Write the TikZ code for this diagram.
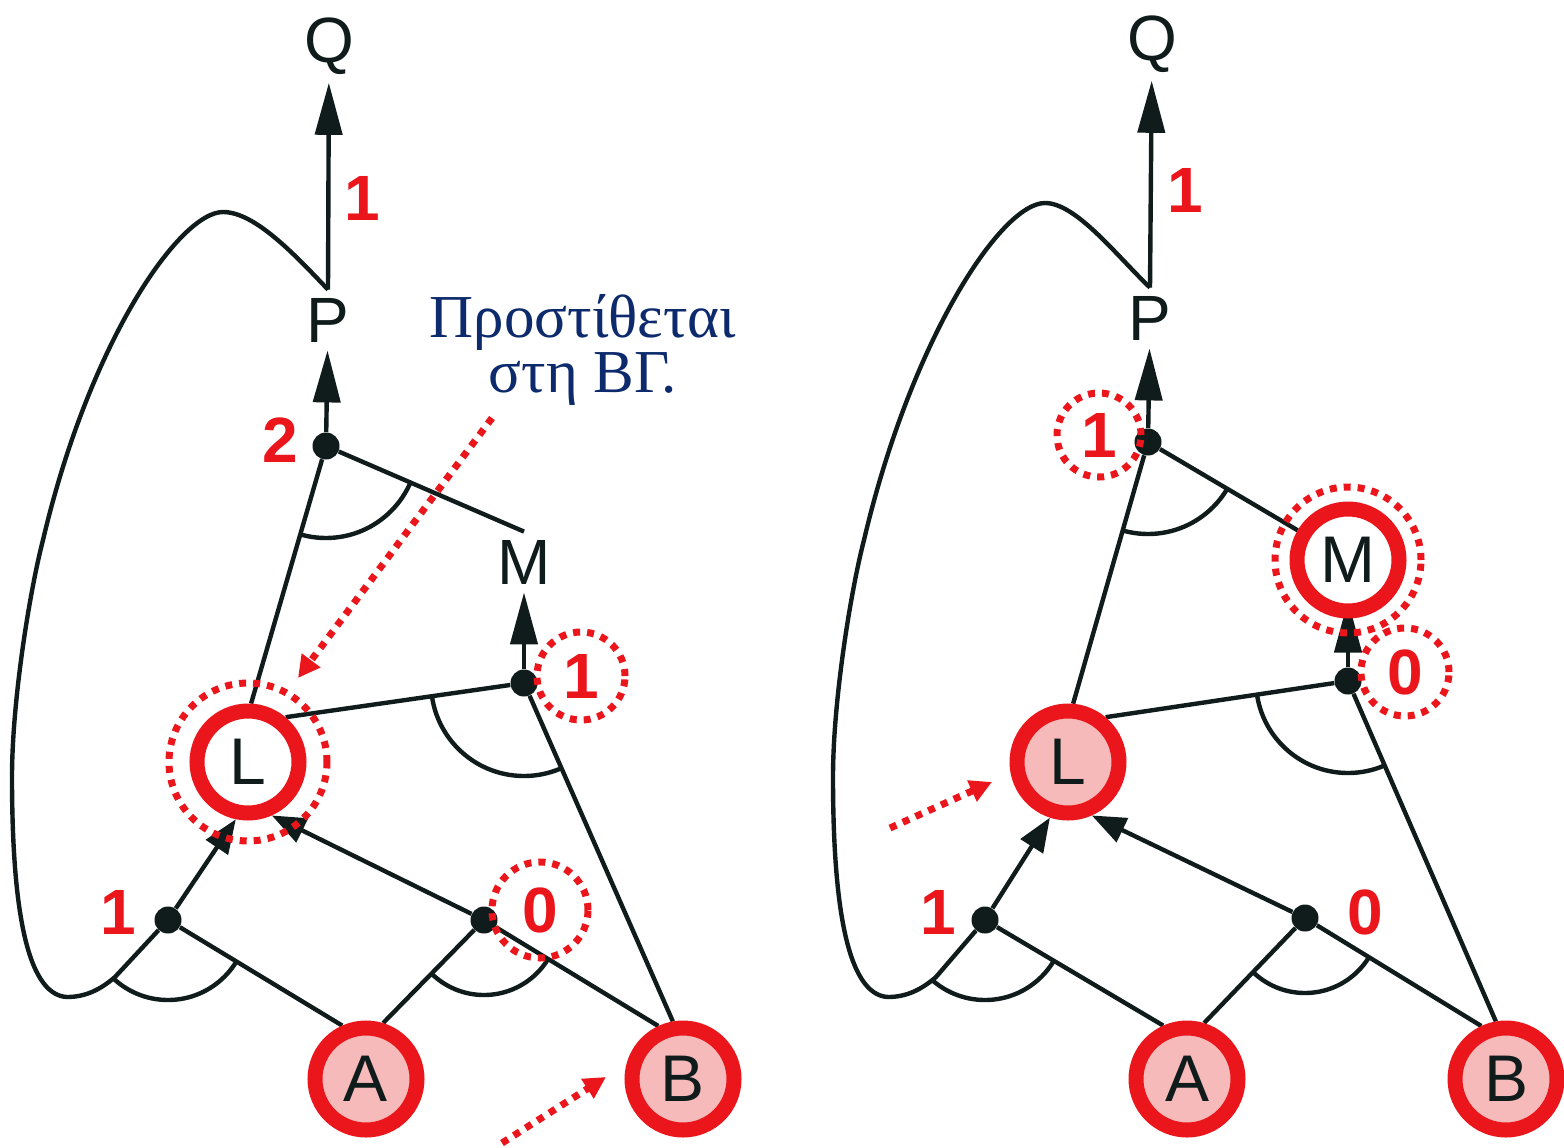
\documentclass[tikz,border=0pt]{standalone}
\usepackage{fontspec}
\setmainfont{Liberation Serif}
\newfontfamily\hv{Liberation Sans}
\usetikzlibrary{arrows.meta,calc}
\definecolor{ink}{RGB}{16,28,28}
\definecolor{hot}{RGB}{234,22,28}
\definecolor{blush}{RGB}{246,186,186}
\definecolor{navy}{RGB}{12,42,108}
\pgfdeclarelayer{canvas}
\pgfdeclarelayer{wires}
\pgfsetlayers{canvas,wires,main}
\tikzset{
  x=0.5pt,y=-0.5pt,
  edge/.style={draw=ink,line width=2.2pt},
  arr/.style={edge,-{Triangle[length=26pt,width=13.5pt]}},
  arrs/.style={edge,-{Triangle[length=17pt,width=13pt]}},
  sym/.style={font=\hv\fontsize{32}{36}\selectfont,text=ink,inner sep=4pt},
  num/.style={font=\hv\bfseries\fontsize{32}{36}\selectfont,text=hot,inner sep=0pt},
  junction/.style={circle,fill=ink,minimum size=13.5pt,inner sep=0pt},
  fact/.style={circle,draw=hot,line width=7.5pt,minimum size=51pt,inner sep=0pt,
    fill=blush,font=\hv\fontsize{33}{36}\selectfont,text=ink},
  fresh/.style={fact,fill=white},
  hint/.style={draw=hot,line width=3.5pt,dash pattern=on 3.5pt off 3.5pt},
  hintarrow/.style={hint,-{Triangle[length=11pt,width=11pt]}},
  note/.style={font=\fontsize{30.5}{26}\selectfont,text=navy,anchor=base,inner sep=0pt},
}
% arc marking an AND junction: #1 junction, #2 and #3 ends of its two inputs, #4 radius
\newcommand\andarc[4]{%
  \begin{scope}
    \clip (#1.center) -- ($(#1.center)!4!(#2)$) -- ($(#1.center)!4!(#3)$) -- cycle;
    \draw[edge] (#1.center) circle[radius=#4];
  \end{scope}}
\begin{document}
\begin{tikzpicture}
\begin{pgfonlayer}{canvas}
  \fill[white] (0,0) rectangle (1564,1147);
\end{pgfonlayer}
\useasboundingbox (0,0) rectangle (1564,1147);

% ---------- left network ----------
\node[sym] (lQ) at (329,46) {Q};
\node[sym] (lP) at (328,320) {P};
\node[sym] (lM) at (524,562) {M};
\node[fresh] (lL) at (248,762) {L};
\node[fact] (lA) at (366,1079) {A};
\node[fact] (lB) at (683,1079) {B};
\node[junction] (ldotP) at (326,446) {};
\node[junction] (ldotM) at (524,683) {};
\node[junction] (ldot1) at (168,920) {};
\node[junction] (ldot0) at (484,920) {};
\coordinate (lk1) at (115,977);

\node[num] (ln1) at (362,198) {1};
\node[num] (ln2) at (280,440) {2};
\node[num] (ln3) at (581,676) {1};
\node[num] (ln4) at (118,912) {1};
\node[num] (ln5) at (540,910) {0};

\begin{pgfonlayer}{wires}
  \draw[arr] (lP.north) -- (lQ);
  \draw[arr] (ldotP) -- (lP);
  \draw[edge] (ldotP) -- (lL.87);
  \draw[edge] (ldotP) -- (lM.north);
  \draw[arr] (ldotM) -- (lM);
  \draw[edge] (lL.50) -- (ldotM);
  \draw[edge] (lB.100) -- (ldotM);
  \draw[arrs] (ldot1) -- (lL.258);
  \draw[arrs] (ldot0) -- (lL.294);
  \draw[edge] (lA.114) -- (ldot1);
  \draw[edge] (lA.73) -- (ldot0);
  \draw[edge] (lB.115) -- (ldot0);
  \draw[edge] (lP.north) .. controls (295,255) and (255,212) .. (223,212)
    .. controls (180,212) and (90,340) .. (43,540)
    .. controls (30,590) and (12,700) .. (12,777)
    .. controls (12,900) and (25,995) .. (67,997)
    .. controls (85,997) and (100,990) .. (lk1) -- (ldot1);
  \andarc{ldotP}{lL.87}{lM.north}{46pt}
  \andarc{ldotM}{lL.50}{lB.100}{46.5pt}
  \andarc{ldot1}{lk1}{lA.114}{40pt}
  \andarc{ldot0}{lA.73}{lB.115}{37.5pt}
\end{pgfonlayer}

\draw[hint] (lL) circle[radius=39.5pt];
\draw[hint] (ln3) circle[radius=22pt];
\draw[hint] (ln5) circle[radius=24pt];

\node[note] (note1) at (583,337) {Προστίθεται};
\node[note] (note2) at (583,392) {στη ΒΓ.};
\coordinate (h1s) at (492,418);
\coordinate (h1t) at (298,678);
\draw[hintarrow] (h1s) -- (h1t);
\coordinate (h2s) at (502,1143);
\coordinate (h2t) at (606,1077);
\draw[hintarrow] (h2s) -- (h2t);

% ---------- right network ----------
\node[sym] (rQ) at (1152,44) {Q};
\node[sym] (rP) at (1150,318) {P};
\node[fresh] (rM) at (1348,560) {M};
\node[fact] (rL) at (1068,762) {L};
\node[fact] (rA) at (1187,1079) {A};
\node[fact] (rB) at (1506,1079) {B};
\node[junction] (rdotP) at (1148,442) {};
\node[junction] (rdotM) at (1348,681) {};
\node[junction] (rdot1) at (985,920) {};
\node[junction] (rdot0) at (1305,918) {};
\coordinate (rk1) at (936,977);

\node[num] (rn1) at (1185,190) {1};
\node[num] (rn2) at (1099,435) {1};
\node[num] (rn3) at (1405,672) {0};
\node[num] (rn4) at (938,912) {1};
\node[num] (rn5) at (1365,912) {0};

\begin{pgfonlayer}{wires}
  \draw[arr] (rP.north) -- (rQ);
  \draw[arr] (rdotP) -- (rP);
  \draw[edge] (rdotP) -- (rL.85);
  \draw[edge] (rdotP) -- (rM);
  \draw[arr,shorten >=-9pt] (rdotM) -- (rM);
  \draw[edge] (rL.50) -- (rdotM);
  \draw[edge] (rB.100) -- (rdotM);
  \draw[arrs] (rdot1) -- (rL.252);
  \draw[arrs] (rdot0) -- (rL.294);
  \draw[edge] (rA.114) -- (rdot1);
  \draw[edge] (rA.73) -- (rdot0);
  \draw[edge] (rB.115) -- (rdot0);
  \draw[edge] (rP.north) .. controls (1116,255) and (1076,203) .. (1045,203)
    .. controls (1001,203) and (911,340) .. (864,540)
    .. controls (851,590) and (833,700) .. (833,777)
    .. controls (833,900) and (846,995) .. (888,997)
    .. controls (906,997) and (921,990) .. (rk1) -- (rdot1);
  \andarc{rdotP}{rL.85}{rM.center}{46pt}
  \andarc{rdotM}{rL.50}{rB.100}{46pt}
  \andarc{rdot1}{rk1}{rA.114}{40pt}
  \andarc{rdot0}{rA.73}{rB.115}{37.5pt}
\end{pgfonlayer}

\draw[hint] (rM) circle[radius=36.5pt];
\draw[hint] (rn2) circle[radius=21pt];
\draw[hint] (rn3) circle[radius=22pt];
\coordinate (h3s) at (890,828);
\coordinate (h3t) at (992,782);
\draw[hintarrow] (h3s) -- (h3t);
\end{tikzpicture}
\end{document}
